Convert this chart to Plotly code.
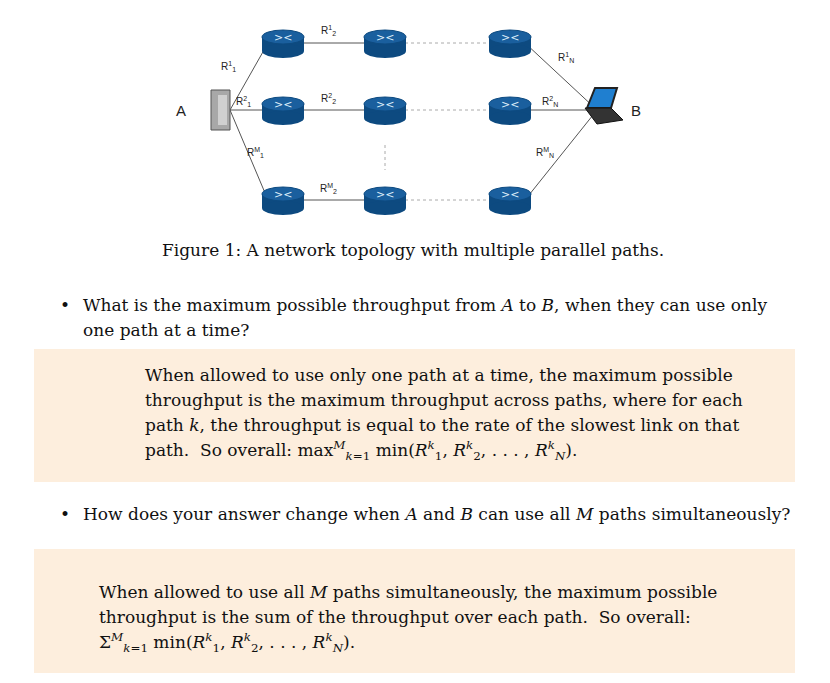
import plotly.graph_objects as go

# network diagram data (pixel coordinates of the page)
router_x = [283, 385, 510]
router_y = [43, 110, 200]
link_labels = [("R<sup>1</sup><sub>1</sub>", 228, 66), ("R<sup>2</sup><sub>1</sub>", 243, 101),
               ("R<sup>M</sup><sub>1</sub>", 255, 152), ("R<sup>1</sup><sub>2</sub>", 328, 30),
               ("R<sup>2</sup><sub>2</sub>", 328, 98), ("R<sup>M</sup><sub>2</sub>", 328, 188),
               ("R<sup>1</sup><sub>N</sub>", 566, 57), ("R<sup>2</sup><sub>N</sub>", 550, 101),
               ("R<sup>M</sup><sub>N</sub>", 545, 152)]
server_xy = (222, 110)
laptop_xy = (605, 110)

caption = "Figure 1: A network topology with multiple parallel paths."
q1 = ["What is the maximum possible throughput from <i>A</i> to <i>B</i>, when they can use only",
      "one path at a time?"]
a1 = ["When allowed to use only one path at a time, the maximum possible",
      "throughput is the maximum throughput across paths, where for each",
      "path <i>k</i>, the throughput is equal to the rate of the slowest link on that",
      "path.  So overall: max<sup><i>M</i></sup><sub><i>k</i>=1</sub> min(<i>R</i><sup><i>k</i></sup><sub>1</sub>, <i>R</i><sup><i>k</i></sup><sub>2</sub>, . . . , <i>R</i><sup><i>k</i></sup><sub><i>N</i></sub>)."]
q2 = ["How does your answer change when <i>A</i> and <i>B</i> can use all <i>M</i> paths simultaneously?"]
a2 = ["When allowed to use all <i>M</i> paths simultaneously, the maximum possible",
      "throughput is the sum of the throughput over each path.  So overall:",
      "Σ<sup><i>M</i></sup><sub><i>k</i>=1</sub> min(<i>R</i><sup><i>k</i></sup><sub>1</sub>, <i>R</i><sup><i>k</i></sup><sub>2</sub>, . . . , <i>R</i><sup><i>k</i></sup><sub><i>N</i></sub>)."]

SERIF = "DejaVu Serif"
fig = go.Figure()
shapes = []
ann = []

# answer boxes
for y0, y1 in [(349, 482), (549, 673)]:
    shapes.append(dict(type="rect", x0=34, x1=795, y0=y0, y1=y1, fillcolor="#fdeedd",
                       line=dict(width=0), layer="below"))

# links
line = dict(color="#555", width=1)
dots = dict(color="#aaa", width=1, dash="dot")
sx, sy = server_xy
lx, ly = laptop_xy
for ry in router_y:
    shapes.append(dict(type="line", x0=sx + 8, y0=sy, x1=router_x[0] - 15, y1=ry, line=line))
    shapes.append(dict(type="line", x0=router_x[0], y0=ry, x1=router_x[1], y1=ry, line=line))
    shapes.append(dict(type="line", x0=router_x[1] + 20, y0=ry, x1=router_x[2] - 20, y1=ry, line=dots))
    shapes.append(dict(type="line", x0=router_x[2] + 15, y0=ry, x1=lx - 8, y1=ly, line=line))
shapes.append(dict(type="line", x0=385, y0=145, x1=385, y1=170, line=dots))

# routers as cylinders
for rx in router_x:
    for ry in router_y:
        shapes.append(dict(type="rect", x0=rx - 21, x1=rx + 21, y0=ry - 6, y1=ry + 8,
                           fillcolor="#0d4a80", line=dict(width=0)))
        shapes.append(dict(type="circle", x0=rx - 21, x1=rx + 21, y0=ry + 1, y1=ry + 15,
                           fillcolor="#0d4a80", line=dict(width=0)))
        shapes.append(dict(type="circle", x0=rx - 21, x1=rx + 21, y0=ry - 13, y1=ry + 1,
                           fillcolor="#1a5f9e", line=dict(color="#0d4a80", width=1)))
        ann.append(dict(x=rx, y=ry - 6, text="&gt;&lt;", showarrow=False,
                        font=dict(color="#dfeefa", size=11, family="DejaVu Sans")))

# server
shapes.append(dict(type="rect", x0=sx - 11, x1=sx + 8, y0=sy - 20, y1=sy + 20,
                   fillcolor="#a8a8a8", line=dict(color="#555", width=1)))
shapes.append(dict(type="rect", x0=sx - 4, x1=sx + 5, y0=sy - 15, y1=sy + 15,
                   fillcolor="#d0d0d0", line=dict(width=0)))
# laptop
shapes.append(dict(type="path", path=f"M {lx-18},{ly-2} L {lx-10},{ly-22} L {lx+12},{ly-22} L {lx+6},{ly-2} Z",
                   fillcolor="#1f7fd0", line=dict(color="#222", width=2)))
shapes.append(dict(type="path", path=f"M {lx-20},{ly-2} L {lx+6},{ly-2} L {lx+18},{ly+10} L {lx-8},{ly+14} Z",
                   fillcolor="#333", line=dict(color="#111", width=1)))

for t, x, y in link_labels:
    ann.append(dict(x=x, y=y, text=t, showarrow=False, font=dict(size=10, family="Liberation Sans", color="#222")))
ann.append(dict(x=181, y=110, text="A", showarrow=False, font=dict(size=15, family="Liberation Sans", color="#222")))
ann.append(dict(x=636, y=110, text="B", showarrow=False, font=dict(size=15, family="Liberation Sans", color="#222")))

def text(x, y, t, anchor="left"):
    ann.append(dict(x=x, y=y, text=t, showarrow=False, xanchor=anchor, yanchor="middle",
                    font=dict(size=17, family=SERIF, color="#111")))

text(413, 250, caption, "center")
text(58, 305, "•")
text(58, 514, "•")
for i, t in enumerate(q1):
    text(81, 305 + 25 * i, t)
for i, t in enumerate(a1):
    text(143, 375 + 25 * i, t)
for i, t in enumerate(q2):
    text(81, 514 + 25 * i, t)
for i, t in enumerate(a2):
    text(97, 592 + 25 * i, t)

fig.update_layout(width=830, height=683, margin=dict(l=0, r=0, t=0, b=0),
                  paper_bgcolor="white", plot_bgcolor="white", shapes=shapes, annotations=ann,
                  xaxis=dict(range=[8, 838], visible=False, fixedrange=True),
                  yaxis=dict(range=[691, 8], visible=False, fixedrange=True),
                  showlegend=False)
fig.write_html("out.html")
